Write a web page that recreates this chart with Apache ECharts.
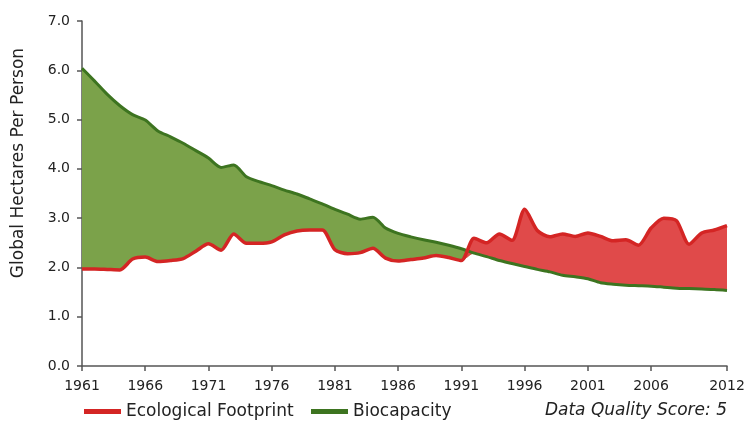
<!DOCTYPE html>
<html>
<head>
<meta charset="utf-8">
<script src="https://cdn.jsdelivr.net/npm/echarts@6/dist/echarts.min.js"></script>
<style>
html,body{margin:0;padding:0;background:#fff;}
#chart{width:748px;height:426px;}
</style>
</head>
<body>
<div id="chart"></div>
<script>
var years = [];
for (var y = 1961; y <= 2012; y++) years.push(String(y));

var tickLabels = ['1961','1966','1971','1976','1981','1986','1991','1996','2001','2006','2012'];

var ecologicalFootprint = [
  1.97,1.97,1.96,1.95,2.17,2.21,2.12,2.14,2.18,2.33,
  2.48,2.35,2.68,2.49,2.49,2.52,2.66,2.74,2.76,2.76,
  2.36,2.28,2.30,2.39,2.19,2.13,2.16,2.19,2.24,2.20,
  2.14,2.59,2.50,2.68,2.55,3.18,2.75,2.62,2.68,2.63,
  2.70,2.63,2.54,2.56,2.45,2.80,3.00,2.95,2.47,2.70,
  2.76,2.85
];

var biocapacity = [
  6.04,5.78,5.51,5.28,5.10,4.99,4.77,4.65,4.52,4.37,
  4.22,4.03,4.08,3.84,3.74,3.66,3.57,3.49,3.39,3.29,
  3.18,3.08,2.98,3.02,2.80,2.69,2.62,2.56,2.51,2.45,
  2.38,2.29,2.22,2.14,2.08,2.02,1.96,1.91,1.84,1.81,
  1.77,1.69,1.66,1.64,1.63,1.62,1.60,1.58,1.57,1.56,
  1.55,1.53
];

var lower = ecologicalFootprint.map(function(v, i){ return Math.min(v, biocapacity[i]); });
var greenGap = ecologicalFootprint.map(function(v, i){ return Math.max(biocapacity[i] - v, 0); });
var redGap = ecologicalFootprint.map(function(v, i){ return Math.max(v - biocapacity[i], 0); });

var FONT = '"DejaVu Sans", sans-serif';
var RED_LINE = '#d42524', RED_FILL = '#e04a4a';
var GREEN_LINE = '#3d7420', GREEN_FILL = '#7ba24a';
var SMOOTH = 0.25;

var chart = echarts.init(document.getElementById('chart'));
chart.setOption({
  animation: false,
  backgroundColor: '#fff',
  grid: { left: 82, right: 21, top: 21, bottom: 60, containLabel: false },
  xAxis: {
    type: 'category',
    data: years,
    boundaryGap: false,
    axisLine: { lineStyle: { color: '#555', width: 1.5 } },
    axisTick: {
      length: 5,
      lineStyle: { color: '#555', width: 1.5 },
      interval: function(i, v){ return tickLabels.indexOf(v) >= 0; }
    },
    axisLabel: {
      interval: function(i, v){ return tickLabels.indexOf(v) >= 0; },
      color: '#222', fontFamily: FONT, fontSize: 14, margin: 13
    },
    splitLine: { show: false }
  },
  yAxis: {
    type: 'value',
    min: 0, max: 7, interval: 1,
    axisLine: { show: true, lineStyle: { color: '#555', width: 1.5 } },
    axisTick: { show: true, length: 5, lineStyle: { color: '#555', width: 1.5 } },
    axisLabel: {
      color: '#222', fontFamily: FONT, fontSize: 14, margin: 12,
      formatter: function(v){ return v.toFixed(1); }
    },
    splitLine: { show: false }
  },
  legend: [
    {
      left: 79, top: 398, itemWidth: 37, itemHeight: 5, icon: 'rect',
      data: ['Ecological Footprint'],
      textStyle: { color: '#222', fontFamily: FONT, fontSize: 17 }
    },
    {
      left: 306, top: 398, itemWidth: 37, itemHeight: 5, icon: 'rect',
      data: ['Biocapacity'],
      textStyle: { color: '#222', fontFamily: FONT, fontSize: 17 }
    }
  ],
  graphic: [
    {
      type: 'text', x: 19, y: 163, rotation: Math.PI / 2,
      style: {
        text: 'Global Hectares Per Person', fill: '#222',
        font: '17px ' + FONT, align: 'center', verticalAlign: 'middle'
      }
    },
    {
      type: 'text', x: 727, y: 411,
      style: {
        text: 'Data Quality Score: 5', fill: '#222',
        font: 'italic 17px ' + FONT, align: 'right', verticalAlign: 'middle'
      }
    }
  ],
  series: [
    { name: 'baseG', type: 'line', stack: 'g', data: lower, symbol: 'none', smooth: SMOOTH,
      lineStyle: { opacity: 0 }, silent: true },
    { name: 'greenArea', type: 'line', stack: 'g', data: greenGap, symbol: 'none', smooth: SMOOTH,
      lineStyle: { opacity: 0 }, areaStyle: { color: GREEN_FILL, opacity: 1 }, silent: true },
    { name: 'baseR', type: 'line', stack: 'r', data: lower, symbol: 'none', smooth: SMOOTH,
      lineStyle: { opacity: 0 }, silent: true },
    { name: 'redArea', type: 'line', stack: 'r', data: redGap, symbol: 'none', smooth: SMOOTH,
      lineStyle: { opacity: 0 }, areaStyle: { color: RED_FILL, opacity: 1 }, silent: true },
    { name: 'Biocapacity', type: 'line', data: biocapacity, symbol: 'none', smooth: SMOOTH,
      color: GREEN_LINE, lineStyle: { color: GREEN_LINE, width: 3 }, z: 5 },
    { name: 'Ecological Footprint', type: 'line', data: ecologicalFootprint, symbol: 'none', smooth: SMOOTH,
      color: RED_LINE, lineStyle: { color: RED_LINE, width: 3.5 }, z: 6 }
  ]
});
</script>
</body>
</html>
